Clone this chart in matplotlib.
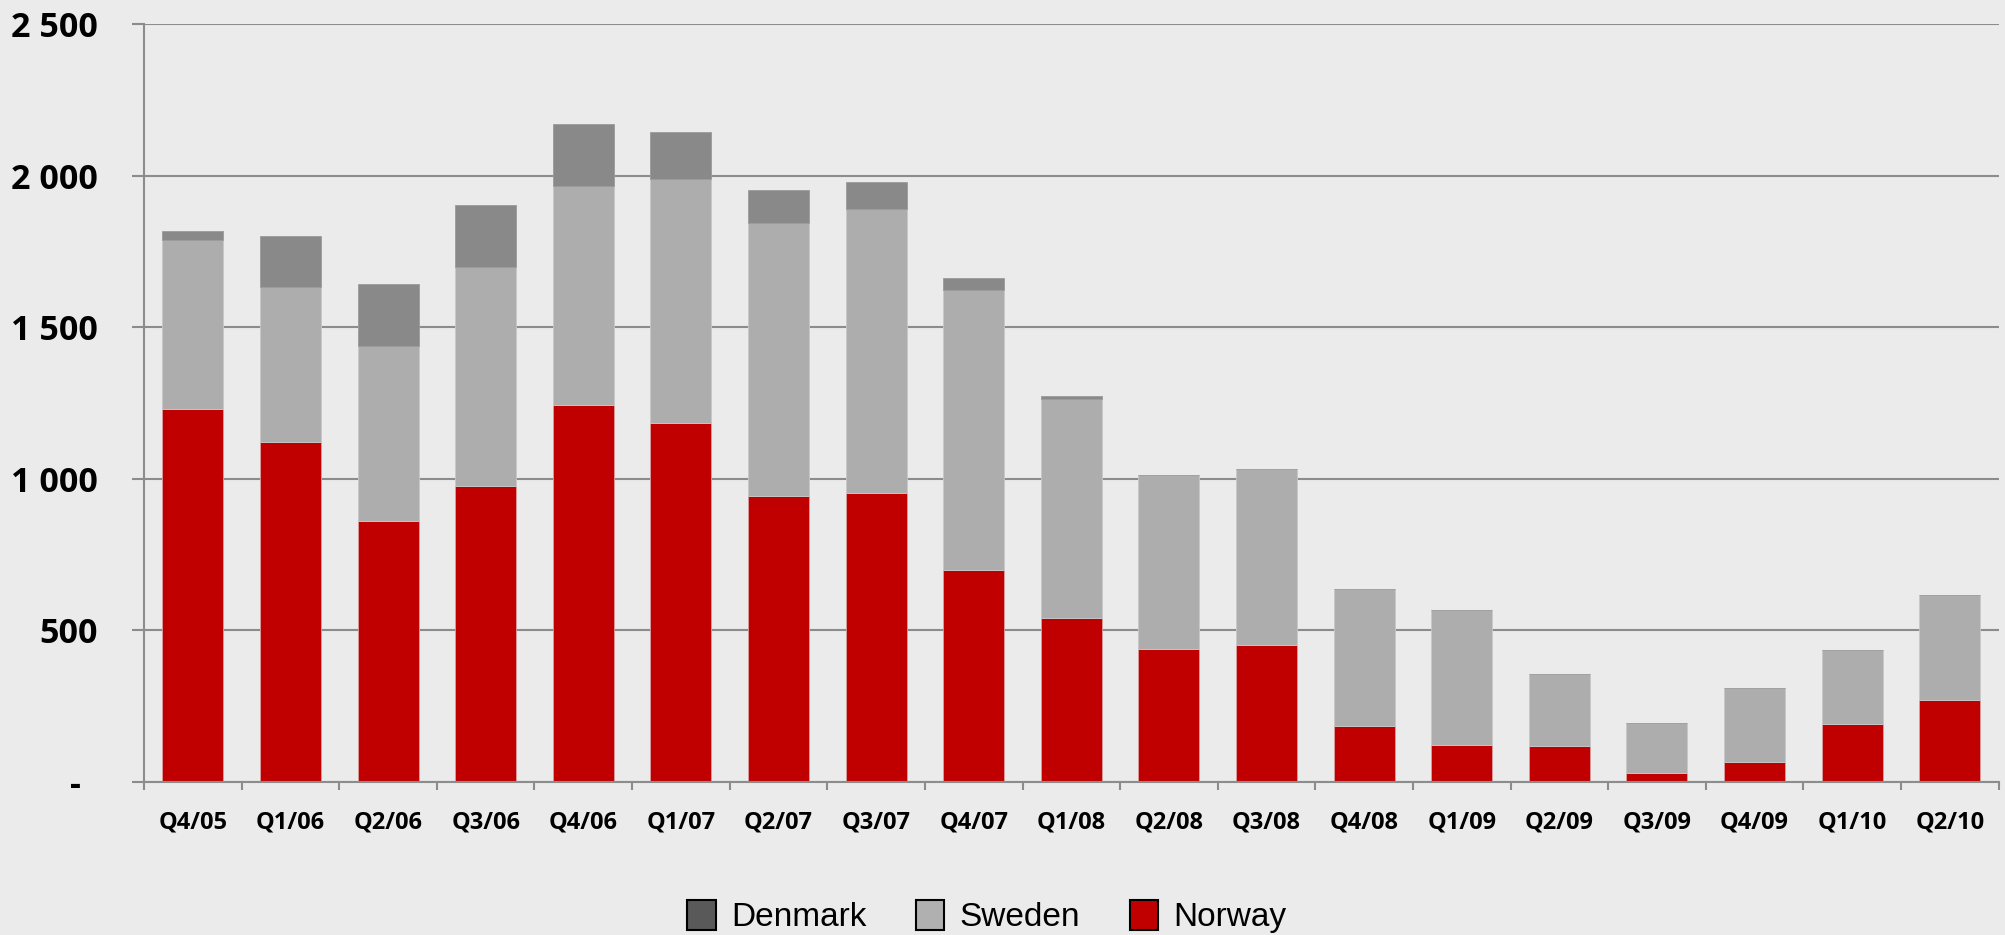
import numpy as np
import matplotlib
matplotlib.use("Agg")
import matplotlib.pyplot as plt
from matplotlib.patches import Patch
from matplotlib.ticker import FixedLocator

# quarters and values
quarters = ["Q4/05", "Q1/06", "Q2/06", "Q3/06", "Q4/06", "Q1/07", "Q2/07", "Q3/07",
            "Q4/07", "Q1/08", "Q2/08", "Q3/08", "Q4/08", "Q1/09", "Q2/09", "Q3/09",
            "Q4/09", "Q1/10", "Q2/10"]
norway = [1229, 1121, 860, 976, 1243, 1184, 942, 953, 698, 540, 439, 452, 185, 121, 118, 30, 64, 190, 271]
sweden = [559, 512, 578, 723, 722, 805, 902, 937, 925, 723, 573, 581, 452, 446, 237, 164, 246, 245, 344]
denmark = [30, 168, 205, 204, 205, 157, 108, 89, 38, 10, 0, 0, 0, 0, 0, 0, 0, 0, 0]
y_ticks = [0, 500, 1000, 1500, 2000, 2500]
y_labels = ["-  ", "500", "1 000", "1 500", "2 000", "2 500"]

bg = "#ebebeb"
grid_c = "#8c8c8c"
red = "#c00000"
light = "#adadad"
dark = "#898989"

fig = plt.figure(figsize=(20.06, 9.35), dpi=100, facecolor=bg)
ax = fig.add_axes([0.0718, 0.164, 0.9245, 0.810], facecolor=bg)

x = np.arange(len(quarters))
w = 0.625
norway = np.array(norway)
sweden = np.array(sweden)
denmark = np.array(denmark)
ax.bar(x, norway, w, color=red, edgecolor="#d9a0a0", linewidth=0.6, zorder=3)
ax.bar(x, sweden, w, bottom=norway, color=light, edgecolor="#c8c8c8", linewidth=0.6, zorder=3)
ax.bar(x, denmark, w, bottom=norway + sweden, color=dark, edgecolor="#9a9a9a", linewidth=0.6, zorder=3)

ax.set_xlim(-0.5, len(quarters) - 0.5)
ax.set_ylim(0, 2500)
ax.set_yticks(y_ticks)
ax.set_yticklabels(y_labels, fontsize=24.5, fontweight="bold", family="Open Sans")
ax.tick_params(axis="y", length=9, width=1.5, color=grid_c, pad=24)
ax.set_xticks(x)
ax.set_xticklabels(quarters, fontsize=17, fontweight="bold", family="Open Sans")
ax.tick_params(axis="x", which="major", length=0, pad=21)
ax.xaxis.set_minor_locator(FixedLocator(np.arange(-0.5, len(quarters), 1)))
ax.tick_params(axis="x", which="minor", length=6, width=1.5, color=grid_c)

ax.yaxis.grid(True, color=grid_c, linewidth=1.5, zorder=0)
ax.set_axisbelow(True)
for s in ["top", "right"]:
    ax.spines[s].set_visible(False)
for s in ["left", "bottom"]:
    ax.spines[s].set_color(grid_c)
    ax.spines[s].set_linewidth(1.5)
ax.spines["bottom"].set_zorder(4)

handles = [Patch(facecolor="#595959", edgecolor="black", linewidth=1.5, label="Denmark"),
           Patch(facecolor="#b0b0b0", edgecolor="black", linewidth=1.5, label="Sweden"),
           Patch(facecolor=red, edgecolor="black", linewidth=1.5, label="Norway")]
leg = fig.legend(handles=handles, loc="lower center", bbox_to_anchor=(0.492, -0.03), ncol=3,
                 frameon=False, prop={"family": "Liberation Sans", "size": 24},
                 handlelength=0.85, handleheight=1.0, handletextpad=0.45, columnspacing=1.5)

fig.savefig("out.png", dpi=100, facecolor=bg)
